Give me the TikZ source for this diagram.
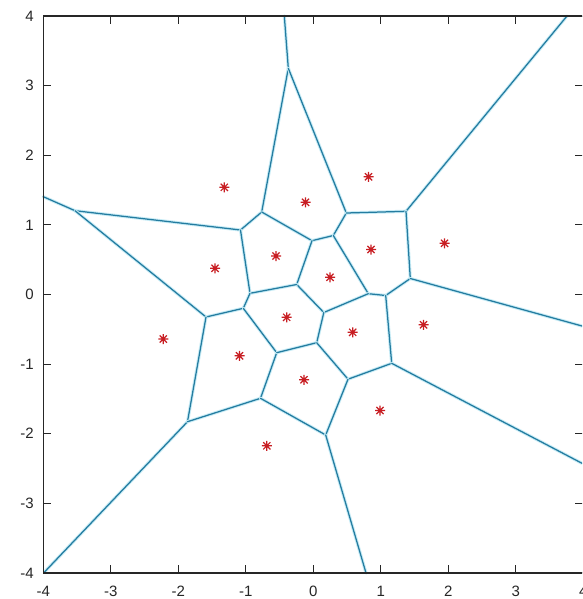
\documentclass[tikz,border=0pt]{standalone}
\usepackage{fontspec}
\setmainfont{Liberation Sans}
\definecolor{vorc}{RGB}{36,124,160}
\definecolor{haloc}{RGB}{200,236,246}
\definecolor{mkc}{RGB}{200,30,35}
\tikzset{
  vorline/.style={draw=vorc,line width=1.25pt,line cap=round,line join=round,
    preaction={draw=haloc,line width=3.2pt,line cap=round}},
  frameline/.style={draw=black!85,line width=1.2pt},
  tickline/.style={draw=black!85,line width=1.1pt},
  ticklab/.style={font=\fontsize{15}{16}\selectfont,text=black!85,inner sep=0pt},
  ast/.pic={\draw[mkc,line width=1.15pt] (-5,0)--(5,0) (0,-5)--(0,5)
     (-3.6,-3.6)--(3.6,3.6) (-3.6,3.6)--(3.6,-3.6);}
}
\begin{document}
\begin{tikzpicture}[x=1pt,y=-1pt]
\useasboundingbox[fill=white] (0,0) rectangle (582,599);
\clip (0,0) rectangle (582,599);
% Voronoi vertices
\coordinate (X) at (288.3,68.3);
\coordinate (A) at (261.7,212);
\coordinate (B) at (240.5,230);
\coordinate (C) at (312,240.7);
\coordinate (D) at (333.3,235.5);
\coordinate (E) at (346.3,213);
\coordinate (F) at (406,211.3);
\coordinate (G) at (410.3,278.5);
\coordinate (H) at (385.7,295.5);
\coordinate (I) at (368.3,293.7);
\coordinate (J) at (323.8,312.5);
\coordinate (K) at (296.7,284.5);
\coordinate (L) at (250,293.3);
\coordinate (M) at (243.3,308.3);
\coordinate (N) at (206,317);
\coordinate (O) at (316.7,342.7);
\coordinate (P) at (276.7,352.7);
\coordinate (Q) at (391.7,363.3);
\coordinate (R) at (348,379.2);
\coordinate (S) at (260.5,398.3);
\coordinate (T) at (187.5,421.7);
\coordinate (U) at (325.7,435);
\coordinate (V) at (75,210.7);
% free ends
\coordinate (eTop) at (284.3,16);
\coordinate (eTopR) at (567,16);
\coordinate (eLeft) at (43.3,196.7);
\coordinate (eCorner) at (44.5,572);
\coordinate (eRight1) at (582,326);
\coordinate (eRight2) at (582,463.3);
\coordinate (eBottom) at (366,573);
% edges
\foreach \a/\b in {X/eTop,X/A,X/E,A/B,A/C,B/V,B/L,V/eLeft,V/N,C/D,C/K,D/E,D/I,
  E/F,F/eTopR,F/G,G/H,G/eRight1,H/I,H/Q,I/J,J/K,J/O,K/L,L/M,M/N,M/P,N/T,
  T/eCorner,T/S,S/P,S/U,P/O,O/R,R/Q,R/U,Q/eRight2,U/eBottom}
  \draw[vorline] (\a) -- (\b);
% generator points
\foreach \n/\x/\y in {1/224.3/187.3,2/305.5/202.3,3/368.5/176.8,4/444.5/243.3,
  5/215/268.3,6/276/256,7/371/249.5,8/330/277.3,9/163.3/339,10/286.7/317.3,
  11/352.7/332.3,12/423.5/324.8,13/239.5/355.8,14/304/379.8,15/380/410.5,16/266.8/445.8}
  { \coordinate (p\n) at (\x,\y); \pic at (p\n) {ast}; }
% frame
\draw[frameline] (43.3,16.1) rectangle (583.3,572.9);
% ticks and labels
\foreach \k/\lab in {-4/-4,-3/-3,-2/-2,-1/-1,0/0,1/1,2/2,3/3,4/4}{
  \pgfmathsetmacro{\px}{313.3+67.5*\k}
  \pgfmathsetmacro{\py}{294.5-69.6*\k}
  \draw[tickline] (\px,572.9) -- (\px,564.9);
  \draw[tickline] (\px,16.1) -- (\px,24.1);
  \draw[tickline] (43.3,\py) -- (51.3,\py);
  \draw[tickline] (583.3,\py) -- (575.3,\py);
  \node[ticklab,anchor=center] (xl\k) at (\px,591) {\lab};
  \node[ticklab,anchor=east] (yl\k) at (34,\py) {\lab};
}
\end{tikzpicture}
\end{document}
